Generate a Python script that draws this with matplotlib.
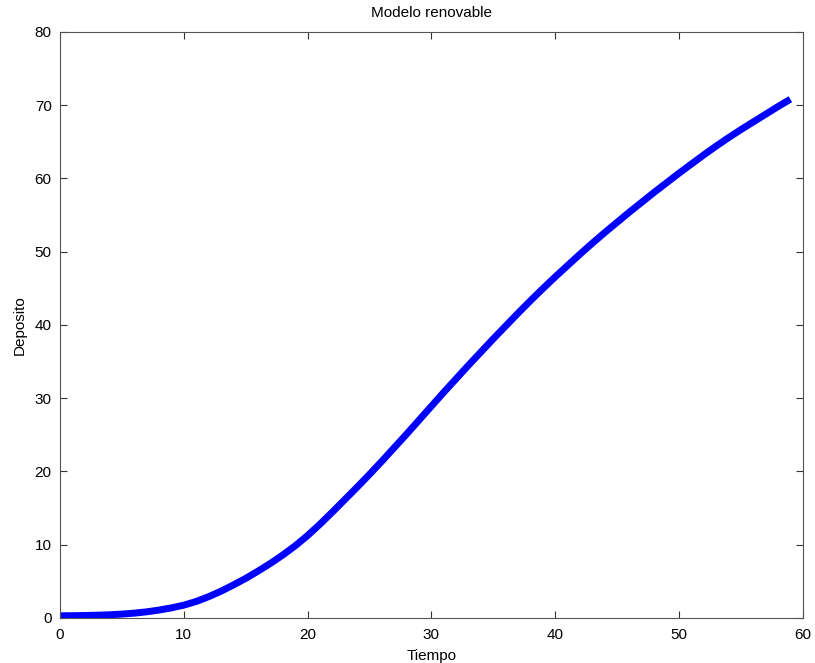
import matplotlib
matplotlib.use("Agg")
import matplotlib.pyplot as plt

# Datos
tiempo = list(range(60))
deposito = [
    0.30, 0.31, 0.34, 0.38, 0.44, 0.53, 0.66, 0.84, 1.08, 1.38,
    1.75, 2.25, 2.90, 3.65, 4.50, 5.40, 6.40, 7.45, 8.60, 9.85,
    11.25, 12.80, 14.45, 16.15, 17.85, 19.60, 21.40, 23.25, 25.10, 27.00,
    28.90, 30.80, 32.65, 34.50, 36.30, 38.10, 39.85, 41.60, 43.30, 44.95,
    46.55, 48.10, 49.65, 51.15, 52.60, 54.00, 55.40, 56.75, 58.10, 59.40,
    60.70, 61.95, 63.20, 64.40, 65.55, 66.65, 67.70, 68.75, 69.80, 70.80,
]

plt.rcParams['font.family'] = ['Liberation Sans', 'DejaVu Sans']
plt.rcParams['font.size'] = 11

fig = plt.figure(figsize=(8.15, 6.63), dpi=100)
ax = fig.add_axes([0.0736, 0.0679, 0.985 - 0.0736, 0.952 - 0.0679])

ax.plot(tiempo, deposito, color=(0, 0, 1), linewidth=5, solid_capstyle='butt')

ax.set_xlim(0, 60)
ax.set_ylim(0, 80)
ax.set_xticks(range(0, 61, 10))
ax.set_yticks(range(0, 81, 10))
ax.tick_params(direction='in', length=5, width=0.8, top=True, right=True,
               colors='#333333', labelcolor='black', labelsize=11)
ax.tick_params(axis='x', pad=7)
ax.tick_params(axis='y', pad=6)
for s in ax.spines.values():
    s.set_color('#555555')
    s.set_linewidth(0.8)

ax.set_title('Modelo renovable', fontsize=11, pad=11)
ax.set_xlabel('Tiempo', fontsize=11, labelpad=5)
ax.set_ylabel('Deposito', fontsize=11, labelpad=6)

fig.savefig('out.png', dpi=100)
